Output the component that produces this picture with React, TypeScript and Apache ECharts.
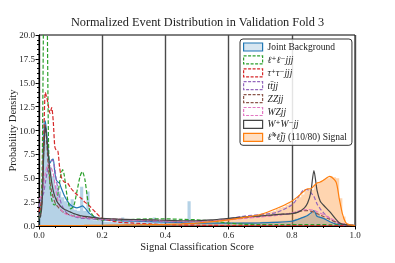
import React, { useEffect, useRef } from 'react';
import * as echarts from 'echarts';

// Common x grid for the KDE curves
const XS = [0, 0.005, 0.01, 0.015, 0.02, 0.025, 0.03, 0.035, 0.04, 0.045, 0.05, 0.055, 0.06, 0.065, 0.07, 0.075, 0.08, 0.09, 0.1, 0.11, 0.12, 0.13, 0.137, 0.145, 0.16, 0.18, 0.2, 0.25, 0.3, 0.35, 0.4, 0.45, 0.5, 0.55, 0.6, 0.65, 0.7, 0.75, 0.8, 0.82, 0.84, 0.85, 0.86, 0.87, 0.88, 0.89, 0.9, 0.92, 0.94, 0.95, 0.96, 0.97, 0.98, 1.0];

const KDE_JOINT = [1.0, 1.5, 4, 9, 11, 9.5, 7.5, 6.6, 6.9, 7.0, 5.6, 4.8, 4.6, 4.5, 4.0, 3.6, 3.2, 2.6, 2.2, 2.0, 1.9, 2.0, 2.1, 1.9, 1.3, 0.9, 0.7, 0.55, 0.5, 0.45, 0.4, 0.35, 0.3, 0.3, 0.3, 0.3, 0.32, 0.38, 0.5, 0.7, 0.95, 1.1, 1.35, 1.6, 1.0, 0.9, 0.8, 0.45, 0.2, 0.15, 0.12, 0.1, 0.08, 0.05];
const KDE_LLJJJ = [0.8, 1.2, 6, 24, 32, 25, 9, 4, 2.8, 2.3, 2.2, 2.6, 3.4, 4.5, 5.5, 5.9, 5.3, 2.9, 1.8, 2.1, 3.6, 5.2, 5.7, 4.9, 1.7, 0.75, 0.6, 0.6, 0.7, 0.75, 0.75, 0.7, 0.65, 0.5, 0.3, 0.18, 0.15, 0.14, 0.14, 0.14, 0.14, 0.14, 0.14, 0.14, 0.14, 0.14, 0.14, 0.13, 0.12, 0.12, 0.11, 0.1, 0.08, 0.05];
const KDE_TTJJJ = [1.5, 2.0, 3.5, 9, 14.0, 13.4, 12.5, 11.8, 12.4, 11.0, 8.3, 7.9, 7.8, 6.2, 5.2, 4.8, 4.6, 4.5, 4.0, 3.6, 3.3, 3.0, 2.8, 2.5, 2.1, 1.4, 0.8, 0.42, 0.3, 0.22, 0.15, 0.1, 0.08, 0.06, 0.05, 0.05, 0.05, 0.05, 0.05, 0.05, 0.05, 0.05, 0.05, 0.05, 0.05, 0.05, 0.05, 0.05, 0.05, 0.05, 0.04, 0.04, 0.03, 0.03];
const KDE_TTBAR = [2.0, 2.6, 3.0, 3.5, 4.5, 5.5, 6.3, 6.7, 6.9, 6.8, 6.0, 4.8, 3.8, 3.0, 2.4, 2.0, 1.7, 1.3, 1.1, 1.0, 0.9, 0.85, 0.8, 0.8, 0.75, 0.7, 0.65, 0.6, 0.55, 0.5, 0.45, 0.42, 0.45, 0.55, 0.75, 1.05, 1.2, 1.4, 2.2, 3.0, 3.8, 3.8, 3.5, 3.1, 2.3, 1.8, 1.4, 0.8, 0.35, 0.25, 0.15, 0.1, 0.08, 0.05];
const KDE_ZZ = [1.0, 1.3, 3, 8, 10.6, 8.5, 6.0, 4.5, 3.6, 3.0, 2.5, 2.2, 2.0, 1.8, 1.65, 1.5, 1.4, 1.25, 1.15, 1.05, 1.0, 0.95, 0.9, 0.88, 0.85, 0.8, 0.75, 0.7, 0.65, 0.6, 0.55, 0.5, 0.5, 0.55, 0.7, 0.85, 1.0, 1.15, 1.35, 1.5, 1.6, 1.6, 1.55, 1.45, 1.3, 1.15, 1.0, 0.7, 0.4, 0.3, 0.2, 0.15, 0.1, 0.05];
const KDE_WZ = [2.8, 3.0, 3.3, 4.5, 5.5, 6.2, 6.5, 6.3, 6.0, 5.5, 4.5, 3.5, 2.6, 2.0, 1.7, 1.5, 1.35, 1.2, 1.1, 1.05, 1.0, 0.95, 0.9, 0.9, 0.85, 0.8, 0.75, 0.7, 0.65, 0.6, 0.55, 0.5, 0.5, 0.55, 0.65, 0.8, 0.95, 1.1, 1.35, 1.55, 1.7, 1.72, 1.7, 1.65, 1.5, 1.35, 1.2, 0.85, 0.5, 0.35, 0.25, 0.18, 0.12, 0.06];
const KDE_WW = [0.8, 1.0, 2.5, 7.5, 10.5, 9.0, 7.2, 5.8, 4.6, 3.7, 3.1, 2.7, 2.4, 2.2, 2.0, 1.85, 1.75, 1.6, 1.45, 1.3, 1.2, 1.1, 1.05, 1.0, 0.95, 0.85, 0.8, 0.72, 0.68, 0.65, 0.6, 0.55, 0.55, 0.65, 0.8, 0.95, 1.05, 1.2, 1.3, 1.45, 1.9, 2.4, 3.5, 5.8, 3.7, 2.6, 2.2, 1.5, 0.7, 0.35, 0.2, 0.15, 0.1, 0.05];
const KDE_SIGNAL = [0.05, 0.05, 0.05, 0.05, 0.05, 0.05, 0.05, 0.05, 0.05, 0.05, 0.05, 0.05, 0.05, 0.05, 0.05, 0.05, 0.05, 0.05, 0.05, 0.05, 0.05, 0.05, 0.05, 0.06, 0.06, 0.07, 0.08, 0.1, 0.12, 0.14, 0.17, 0.22, 0.3, 0.45, 0.65, 0.9, 1.2, 1.8, 2.6, 3.1, 3.7, 3.9, 3.9, 4.2, 4.5, 4.6, 4.8, 5.2, 4.6, 2.9, 1.3, 0.4, 0.15, 0.05];

// Histograms, bins of width 0.01 from 0.00 to 1.00
const BIN_WIDTH = 0.01;
const HIST_JOINT = [
  1.2, 11, 9, 6.2, 5.2, 4.2, 3.6, 3.0, 2.6, 2.3,
  2.8, 1.7, 1.6, 4.1, 1.6, 3.6, 1.1, 0.6, 0.55, 0.5,
  0.45, 0.45, 0.45, 0.4, 0.4, 0.4, 0.9, 0.4, 0.4, 0.4,
  0.4, 0.4, 0.4, 0.4, 0.4, 0.4, 0.9, 0.4, 0.35, 0.35,
  0.35, 0.35, 0.35, 0.35, 0.35, 0.35, 0.35, 2.6, 0.35, 0.35,
  0.35, 0.35, 0.35, 0.35, 0.35, 0.35, 0.35, 0.35, 0.35, 0.35,
  0.35, 0.35, 0.35, 0.38, 0.38, 0.4, 0.4, 0.4, 0.42, 0.42,
  0.45, 0.45, 0.48, 0.5, 0.5, 0.52, 0.55, 0.55, 0.58, 0.6,
  0.65, 0.75, 0.85, 0.95, 1.05, 1.2, 1.4, 1.5, 1.2, 1.0,
  0.8, 0.6, 0.45, 0.3, 0.2, 0.15, 0.12, 0.1, 0.08, 0.05,
];
const HIST_SIGNAL = [
  0.05, 0.05, 0.05, 0.05, 0.05, 0.05, 0.05, 0.05, 0.05, 0.05,
  0.05, 0.05, 0.05, 0.05, 0.05, 0.05, 0.05, 0.05, 0.05, 0.05,
  0.06, 0.06, 0.06, 0.06, 0.06, 0.06, 0.06, 0.06, 0.06, 0.06,
  0.08, 0.08, 0.09, 0.09, 0.1, 0.1, 0.11, 0.12, 0.13, 0.14,
  0.15, 0.16, 0.17, 0.18, 0.2, 0.21, 0.23, 0.25, 0.27, 0.28,
  0.3, 0.32, 0.35, 0.38, 0.42, 0.45, 0.5, 0.55, 0.58, 0.62,
  0.65, 0.7, 0.75, 0.8, 0.85, 0.9, 0.95, 1.0, 1.05, 1.1,
  1.2, 1.3, 1.4, 1.5, 1.6, 1.75, 1.9, 2.0, 2.2, 2.35,
  2.5, 2.8, 3.0, 3.3, 3.7, 3.9, 3.8, 4.3, 4.6, 4.7,
  4.9, 5.0, 5.2, 5.1, 5.0, 2.9, 1.0, 0.3, 0.15, 0.08,
];

const TITLE = 'Normalized Event Distribution in Validation Fold 3';
const X_NAME = 'Signal Classification Score';
const Y_NAME = 'Probability Density';

const SERIES_NAMES = ['Joint Background', 'ℓ⁺ℓ⁻jjj', 'τ⁺τ⁻jjj', 'tt̄jj', 'ZZjj', 'WZjj', 'W⁺W⁻jj', 'ℓ̃*ℓ̃jj (110/80) Signal'];
const LEGEND_TEXT = ['Joint Background', '{m|ℓ⁺ℓ⁻jjj}', '{m|τ⁺τ⁻jjj}', '{m|tt̄jj}', '{m|ZZjj}', '{m|WZjj}', '{m|W⁺W⁻jj}', '{m|ℓ̃*ℓ̃jj} (110/80) Signal'];
const KDES = [KDE_JOINT, KDE_LLJJJ, KDE_TTJJJ, KDE_TTBAR, KDE_ZZ, KDE_WZ, KDE_WW, KDE_SIGNAL];
const COLORS = ['#1f77b4', '#2ca02c', '#d62728', '#9467bd', '#8c564b', '#e377c2', '#454545', '#ff7f0e'];
const DASHED = [false, true, true, true, true, true, false, false];
const LEGEND_FILLS = ['rgba(31,119,180,0.18)', '#fff', '#fff', '#fff', '#fff', '#fff', '#fff', 'rgba(255,127,14,0.25)'];

const SERIF = "'Liberation Serif', 'DejaVu Serif', serif";

function kdePairs(ys: number[]) {
  return XS.map((x, i) => [x, ys[i]]);
}
function histPairs(h: number[]) {
  const d = h.map((v, i) => [Number((i * BIN_WIDTH).toFixed(2)), v]);
  d.push([1, 0]);
  return d;
}

export default function App() {
  const ref = useRef<HTMLDivElement>(null);
  useEffect(() => {
    if (!ref.current) return;
    const chart = echarts.init(ref.current, null, { renderer: 'svg' });
    const axisFont = { fontFamily: SERIF, fontSize: 9, color: '#222' };
    const series: any[] = [
      {
        type: 'line', name: 'Joint Background histogram', data: histPairs(HIST_JOINT), step: 'end',
        symbol: 'none', lineStyle: { width: 0 }, areaStyle: { color: 'rgba(31,119,180,0.33)', opacity: 1 },
        itemStyle: { color: '#1f77b4' }, z: 1,
      },
      {
        type: 'line', name: 'Signal histogram', data: histPairs(HIST_SIGNAL), step: 'end',
        symbol: 'none', lineStyle: { width: 0 }, areaStyle: { color: 'rgba(255,127,14,0.33)', opacity: 1 },
        itemStyle: { color: '#ff7f0e' }, z: 1,
      },
    ];
    SERIES_NAMES.forEach((name, i) => {
      series.push({
        type: 'line', name, data: kdePairs(KDES[i]), smooth: 0.25, symbol: 'none',
        lineStyle: { color: COLORS[i], width: 1.2, type: DASHED[i] ? [4, 2] : 'solid' },
        itemStyle: { color: COLORS[i] }, z: 2 + i,
      });
    });
    chart.setOption({
      animation: false,
      title: {
        text: TITLE, left: 'center', top: 11,
        textStyle: { fontFamily: SERIF, fontSize: 12.3, fontWeight: 'normal', color: '#222' },
      },
      grid: {
        left: 39, right: 40, top: 35, bottom: 37, show: true, borderColor: '#000', borderWidth: 1,
        containLabel: false, outerBoundsMode: 'none',
      },
      legend: {
        orient: 'vertical', left: 240, top: 39, padding: [3, 5, 3, 3],
        itemWidth: 19, itemHeight: 8, itemGap: 2.9, icon: 'rect',
        backgroundColor: 'rgba(255,255,255,0.85)', borderColor: '#333', borderWidth: 1, borderRadius: 3,
        textStyle: {
          fontFamily: SERIF, fontSize: 9.5, color: '#222', lineHeight: 10,
          rich: { m: { fontFamily: SERIF, fontStyle: 'italic', fontSize: 9.5, lineHeight: 10, color: '#222' } },
        },
        formatter: (name: string) => LEGEND_TEXT[SERIES_NAMES.indexOf(name)] ?? name,
        data: SERIES_NAMES.map((name, i) => ({
          name,
          icon: 'rect',
          itemStyle: {
            color: LEGEND_FILLS[i], borderColor: COLORS[i], borderWidth: 1.2,
            borderType: DASHED[i] ? [3, 1.5] : 'solid',
          },
        })),
      },
      xAxis: {
        type: 'value', min: 0, max: 1, interval: 0.2,
        axisLine: { show: true, lineStyle: { color: '#000', width: 1 } },
        axisTick: { show: true, length: 3.5, lineStyle: { color: '#000' } },
        minorTick: { show: true, splitNumber: 4, length: 2, lineStyle: { color: '#000' } },
        splitLine: { show: true, lineStyle: { color: '#4a4a4a', width: 1.4 } },
        axisLabel: { ...axisFont, margin: 4, formatter: (v: number) => v.toFixed(1) },
        name: X_NAME, nameLocation: 'middle', nameGap: 15, nameMoveOverlap: false,
        nameTextStyle: { fontFamily: SERIF, fontSize: 10.5, color: '#222' },
      },
      yAxis: {
        type: 'value', min: 0, max: 20, interval: 2.5,
        axisLine: { show: true, lineStyle: { color: '#000', width: 1 } },
        axisTick: { show: true, length: 3.5, lineStyle: { color: '#000' } },
        minorTick: { show: true, splitNumber: 5, length: 2, lineStyle: { color: '#000' } },
        splitLine: { show: false },
        axisLabel: { ...axisFont, margin: 4, formatter: (v: number) => v.toFixed(1) },
        name: Y_NAME, nameLocation: 'middle', nameGap: 27, nameMoveOverlap: false,
        nameTextStyle: { fontFamily: SERIF, fontSize: 10.5, color: '#222', verticalAlign: 'middle' },
      },
      series,
    });
    return () => chart.dispose();
  }, []);
  return <div ref={ref} style={{ position: 'fixed', left: 0, top: 0, width: 395, height: 263 }} />;
}
